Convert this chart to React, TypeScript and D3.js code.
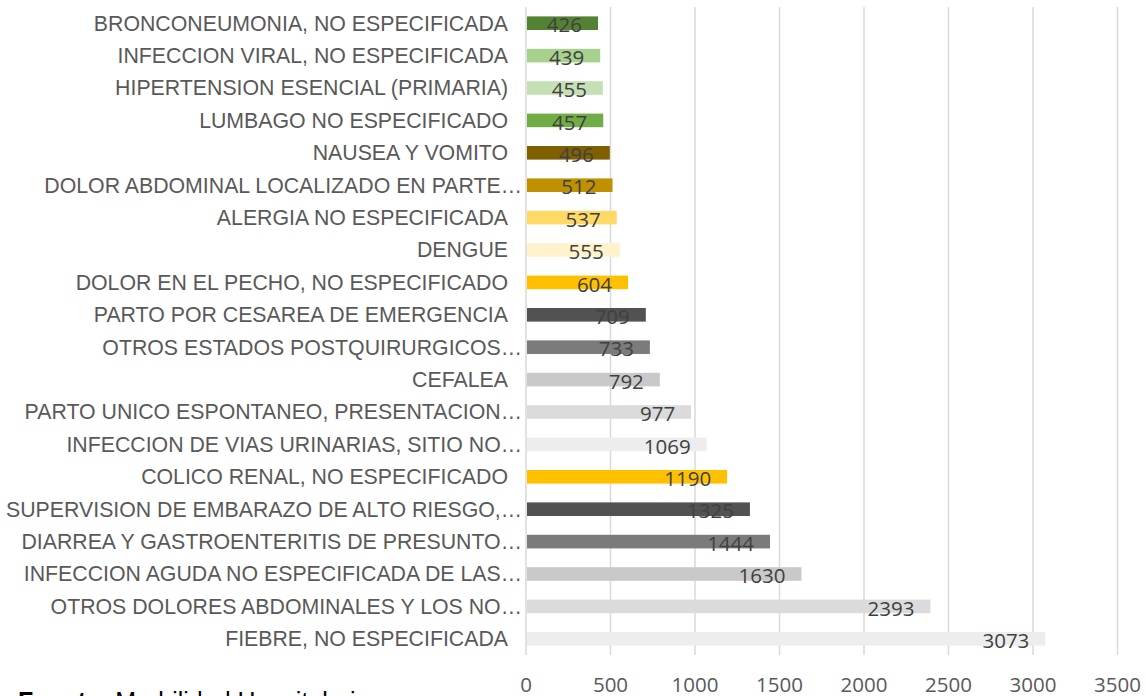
import React from 'react'
import * as d3 from 'd3'

// categories top to bottom, as they appear in the chart
const categories = [
  'BRONCONEUMONIA, NO ESPECIFICADA',
  'INFECCION VIRAL, NO ESPECIFICADA',
  'HIPERTENSION ESENCIAL (PRIMARIA)',
  'LUMBAGO NO ESPECIFICADO',
  'NAUSEA Y VOMITO',
  'DOLOR ABDOMINAL LOCALIZADO EN PARTE…',
  'ALERGIA NO ESPECIFICADA',
  'DENGUE',
  'DOLOR EN EL PECHO, NO ESPECIFICADO',
  'PARTO POR CESAREA DE EMERGENCIA',
  'OTROS ESTADOS POSTQUIRURGICOS…',
  'CEFALEA',
  'PARTO UNICO ESPONTANEO, PRESENTACION…',
  'INFECCION DE VIAS URINARIAS, SITIO NO…',
  'COLICO RENAL, NO ESPECIFICADO',
  'SUPERVISION DE EMBARAZO DE ALTO RIESGO,…',
  'DIARREA Y GASTROENTERITIS DE PRESUNTO…',
  'INFECCION AGUDA NO ESPECIFICADA DE LAS…',
  'OTROS DOLORES ABDOMINALES Y LOS NO…',
  'FIEBRE, NO ESPECIFICADA',
]

const values = [426, 439, 455, 457, 496, 512, 537, 555, 604, 709, 733, 792, 977, 1069, 1190, 1325, 1444, 1630, 2393, 3073]

const barColors = [
  '#548235', '#A9D18E', '#C5E0B4', '#70AD47', '#7F6000', '#BF9000', '#FFD966', '#FFF2CC', '#FFC000',
  '#525252', '#7B7B7B', '#C9C9C9', '#DBDBDB', '#EDEDED', '#FFC000', '#525252', '#7B7B7B', '#C9C9C9',
  '#DBDBDB', '#EDEDED',
]

const xTicks = [0, 500, 1000, 1500, 2000, 2500, 3000, 3500]

const width = 1146
const height = 696
const plot = { left: 526, right: 1117.5, top: 7, bottom: 655 }

export default function App() {
  const x = d3.scaleLinear().domain([0, 3500]).range([plot.left, plot.right])
  const y = d3.scaleBand().domain(categories).range([plot.top, plot.bottom]).paddingInner(0.58).paddingOuter(0.29)

  return (
    <svg width={width} height={height} style={{ position: 'absolute', left: 0, top: 0, background: '#fff' }}>
      {/* gridlines */}
      {xTicks.map(t => (
        <line key={t} x1={x(t)} x2={x(t)} y1={plot.top} y2={plot.bottom} stroke="#D9D9D9" strokeWidth={1.5} />
      ))}

      {/* bars */}
      {categories.map((c, i) => (
        <rect key={c} x={x(0) + 1} y={y(c)} width={x(values[i]) - x(0) - 1} height={y.bandwidth()} fill={barColors[i]} />
      ))}

      {/* category labels */}
      {categories.map(c => (
        <text
          key={'l' + c}
          x={c.endsWith('…') ? 522 : 508}
          y={(y(c) ?? 0) + y.bandwidth() / 2}
          dy="0.35em"
          textAnchor="end"
          fontFamily="'Liberation Sans', Arial, sans-serif"
          fontSize={21.3}
          fill="#595959"
        >
          {c}
        </text>
      ))}

      {/* data labels */}
      {categories.map((c, i) => (
        <text
          key={'v' + c}
          x={x(values[i]) - 16}
          y={(y(c) ?? 0) + y.bandwidth() / 2 + 2}
          dy="0.35em"
          textAnchor="end"
          fontFamily="'Open Sans', sans-serif"
          fontSize={20.5}
          fill="#404040"
        >
          {values[i]}
        </text>
      ))}

      {/* x axis tick labels */}
      {xTicks.map(t => (
        <text key={'t' + t} x={x(t)} y={692} textAnchor="middle" fontFamily="'Open Sans', sans-serif" fontSize={20.5} fill="#595959">
          {t}
        </text>
      ))}

      {/* source note, cut off at the bottom */}
      <text x={18} y={710} fontFamily="'Liberation Sans', Arial, sans-serif" fontSize={25} fill="#000">
        <tspan fontWeight="bold">Fuente: </tspan>
        <tspan>Morbilidad Hospitalaria</tspan>
      </text>
    </svg>
  )
}
